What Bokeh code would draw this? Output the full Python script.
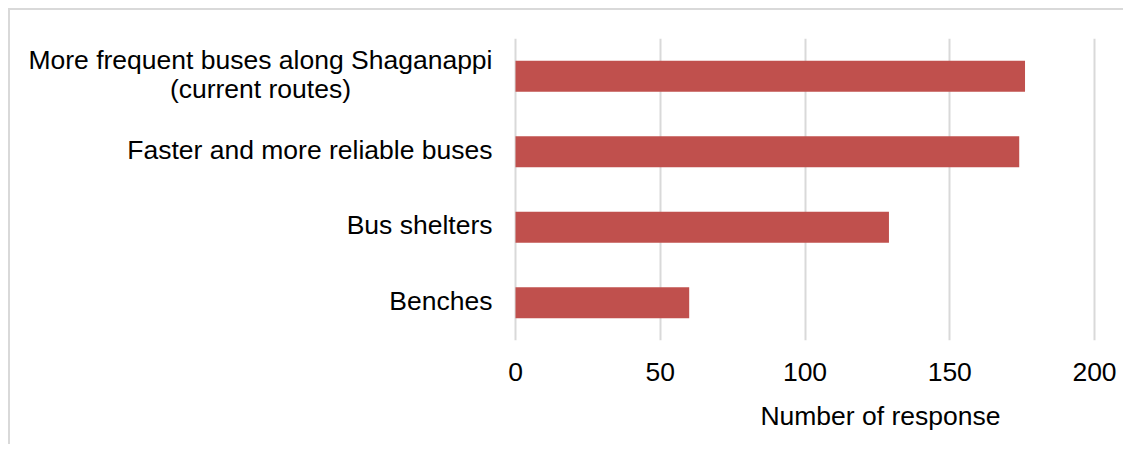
from bokeh.plotting import figure
from bokeh.models import Range1d, FactorRange, Label, ColumnDataSource, Title
from bokeh.embed import file_html
from bokeh.resources import INLINE

categories = ["More frequent buses along Shaganappi\n(current routes)",
              "Faster and more reliable buses",
              "Bus shelters",
              "Benches"]
responses = [176, 174, 129, 60]
x_ticks = [0, 50, 100, 150, 200]
x_title = "Number of response"

FONT = "Liberation Sans"
FS = "26.5px"

# layout (pixels)
W, H = 1115, 436
ZERO_PX = 505          # canvas px from left edge to value 0
AXIS_PX = 579          # px spanned by 0..200
FRAME_W = W - 10
ppu = AXIS_PX / (x_ticks[-1] - x_ticks[0])
x_start = -ZERO_PX / ppu
x_end = x_start + FRAME_W / ppu

src = ColumnDataSource(dict(cat=categories, val=responses))
factors = list(reversed(categories))

p = figure(width=W, height=H, output_backend="svg", toolbar_location=None,
           y_range=FactorRange(*factors),
           x_range=Range1d(x_start, x_end),
           min_border_left=0, min_border_right=W - FRAME_W,
           min_border_top=28, min_border_bottom=105)
p.styles = {"border-left": "2px solid #d9d9d9", "border-top": "2px solid #d9d9d9",
            "margin-left": "8px", "margin-top": "8px"}

p.hbar(y="cat", right="val", left=0, height=0.41, source=src,
       fill_color="#C0504D", line_color=None)

p.outline_line_color = None
p.background_fill_color = "white"
p.border_fill_color = "white"

p.xgrid.grid_line_color = "#d9d9d9"
p.xgrid.grid_line_width = 2
p.ygrid.grid_line_color = None

p.xaxis.ticker = x_ticks
p.xaxis.axis_line_color = None
p.xaxis.major_tick_line_color = None
p.xaxis.minor_tick_line_color = None
p.xaxis.major_tick_out = 0
p.xaxis.major_label_standoff = 22
p.xaxis.major_label_text_font = FONT
p.xaxis.major_label_text_font_size = FS
p.xaxis.major_label_text_color = "black"

p.yaxis.visible = False

for cat in categories:
    ypos = factors.index(cat) + 0.5   # centre of the factor's band
    kw = dict(x=0, y=ypos, x_offset=-23, y_offset=2, text=cat, text_align="center",
              text_baseline="middle", text_font=FONT, text_font_size=FS,
              text_color="black", text_line_height=0.98)
    try:
        lab = Label(anchor="center_right", **kw)
    except Exception:
        kw["text_align"] = "right"
        lab = Label(**kw)
    p.add_layout(lab)

p.add_layout(Title(text=x_title, align="right", offset=94 + (FRAME_W - ZERO_PX - AXIS_PX),
                   text_font=FONT, text_font_size=FS, text_font_style="normal",
                   text_color="black", standoff=31), "below")

open("out.html", "w").write(file_html(p, INLINE))
